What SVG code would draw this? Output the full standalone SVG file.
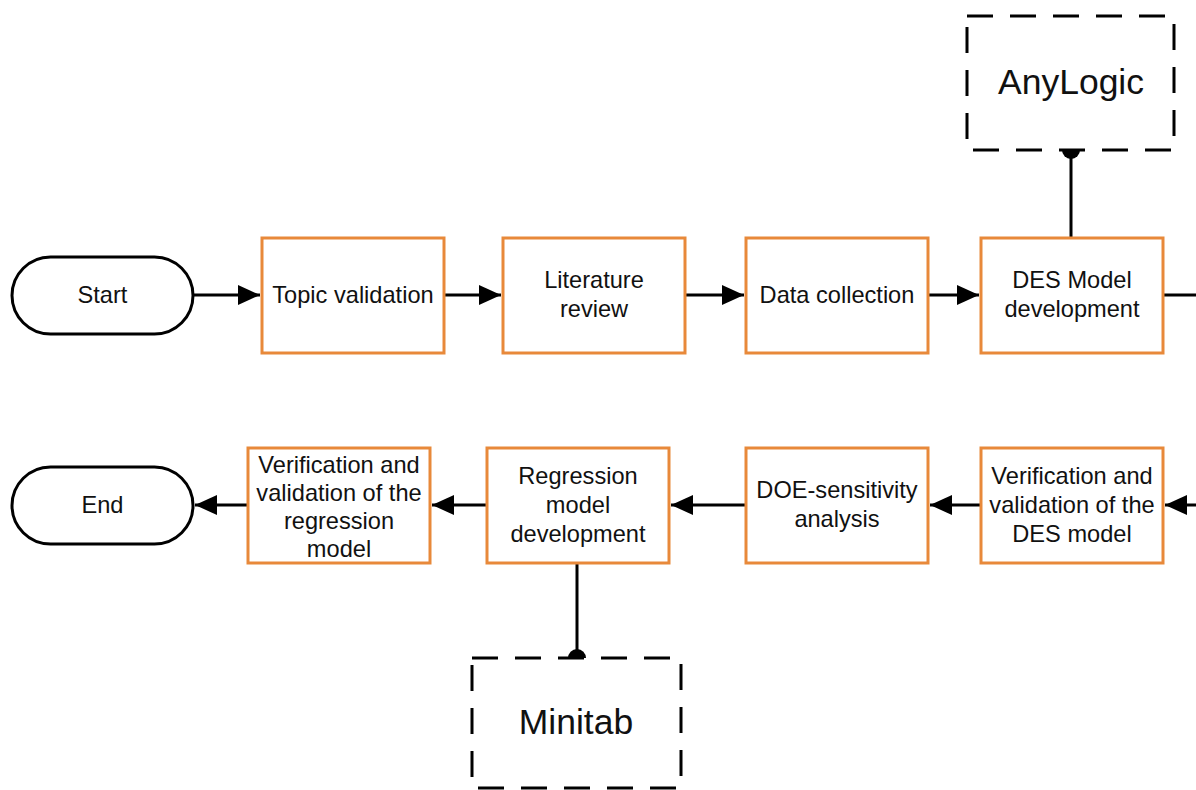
<svg xmlns="http://www.w3.org/2000/svg" width="1196" height="790" viewBox="0 0 1196 790">
<defs>
<marker id="arr" markerUnits="userSpaceOnUse" markerWidth="24" markerHeight="22" refX="22" refY="10" orient="auto">
<path d="M0 0 L22 10 L0 20 Z" fill="#000"/>
</marker>
</defs>
<style>
.box{fill:#fff;stroke:#E8893A;stroke-width:3}
.term{fill:#fff;stroke:#000;stroke-width:3}
.tool{fill:#fff;stroke:#000;stroke-width:3;stroke-dasharray:26 17}
.t{font-family:"Liberation Sans",Arial,sans-serif;font-size:23.6px;fill:#111;text-anchor:middle}
.big{font-family:"Liberation Sans",Arial,sans-serif;font-size:35.5px;fill:#111;text-anchor:middle}
.c{fill:none;stroke:#000;stroke-width:3}
</style>
<rect width="1196" height="790" fill="#fff"/>
<g id="connectors">
<path class="c" d="M193 295 H260" marker-end="url(#arr)"/>
<path class="c" d="M444 295 H501" marker-end="url(#arr)"/>
<path class="c" d="M685 295 H744" marker-end="url(#arr)"/>
<path class="c" d="M928 295 H979" marker-end="url(#arr)"/>
<path class="c" d="M1163 295 H1215 V505 H1165" marker-end="url(#arr)"/>
<path class="c" d="M981 505 H930" marker-end="url(#arr)"/>
<path class="c" d="M746 505 H671" marker-end="url(#arr)"/>
<path class="c" d="M487 505 H432" marker-end="url(#arr)"/>
<path class="c" d="M248 505 H195" marker-end="url(#arr)"/>
<path class="c" d="M1071 238 V150"/>
<path d="M1062 150 A9 9 0 0 0 1080 150 Z" fill="#000"/>
<path class="c" d="M577 564 V658"/>
<path d="M568 658 A9 9 0 0 1 586 658 Z" fill="#000"/>
</g>
<g id="start">
<rect class="term" x="12" y="257" width="181" height="77" rx="38.5"/>
<text class="t" x="102.5" y="303">Start</text>
</g>
<g id="topic">
<rect class="box" x="262" y="238" width="182" height="115"/>
<text class="t" x="353" y="303">Topic validation</text>
</g>
<g id="literature">
<rect class="box" x="503" y="238" width="182" height="115"/>
<text class="t" x="594" y="288">Literature</text>
<text class="t" x="594" y="317">review</text>
</g>
<g id="data">
<rect class="box" x="746" y="238" width="182" height="115"/>
<text class="t" x="837" y="303">Data collection</text>
</g>
<g id="des">
<rect class="box" x="981" y="238" width="182" height="115"/>
<text class="t" x="1072" y="288">DES Model</text>
<text class="t" x="1072" y="317">development</text>
</g>
<g id="anylogic">
<rect class="tool" x="967" y="16" width="207" height="134"/>
<text class="big" x="1071" y="94">AnyLogic</text>
</g>
<g id="verdes">
<rect class="box" x="981" y="448" width="182" height="115"/>
<text class="t" x="1072" y="484">Verification and</text>
<text class="t" x="1072" y="513">validation of the</text>
<text class="t" x="1072" y="542">DES model</text>
</g>
<g id="doe">
<rect class="box" x="746" y="448" width="182" height="115"/>
<text class="t" x="837" y="498">DOE-sensitivity</text>
<text class="t" x="837" y="527">analysis</text>
</g>
<g id="regression">
<rect class="box" x="487" y="448" width="182" height="115"/>
<text class="t" x="578" y="484">Regression</text>
<text class="t" x="578" y="513">model</text>
<text class="t" x="578" y="542">development</text>
</g>
<g id="minitab">
<rect class="tool" x="472" y="658" width="209" height="130"/>
<text class="big" x="576" y="734">Minitab</text>
</g>
<g id="verreg">
<rect class="box" x="248" y="448" width="182" height="115"/>
<text class="t" x="339" y="473">Verification and</text>
<text class="t" x="339" y="501">validation of the</text>
<text class="t" x="339" y="529">regression</text>
<text class="t" x="339" y="557">model</text>
</g>
<g id="end">
<rect class="term" x="12" y="467" width="181" height="77" rx="38.5"/>
<text class="t" x="102.5" y="513">End</text>
</g>
</svg>
